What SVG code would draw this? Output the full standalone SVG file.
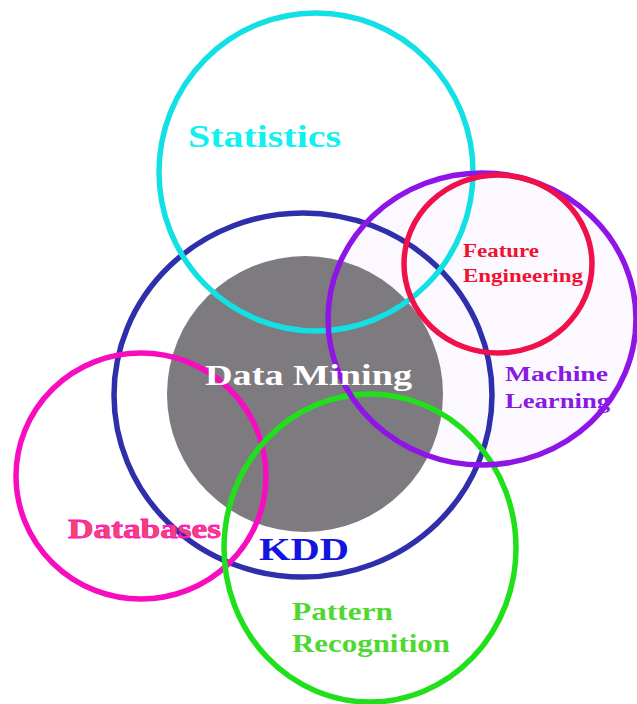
<svg xmlns="http://www.w3.org/2000/svg" width="637" height="704" viewBox="0 0 637 704">
  <style>
    .ring { fill: none; stroke-width: 5.5; }
    .lbl { font-family: "Liberation Serif", "DejaVu Serif", serif; font-weight: bold; }
  </style>
  <rect width="637" height="704" fill="#ffffff"/>

  <!-- filled areas -->
  <g id="fills">
    <ellipse cx="482" cy="319" rx="155" ry="147" fill="#fbf9ff"/>
    <circle id="data-mining-disc" cx="305" cy="394" r="138" fill="#7d7b7f"/>
  </g>

  <!-- outlines of the fields -->
  <g id="kdd"><ellipse class="ring" cx="303" cy="395" rx="189" ry="182" stroke="#2f2fab"/></g>
  <g id="statistics"><ellipse class="ring" cx="316" cy="172" rx="157" ry="159" stroke="#12e0e4"/></g>
  <g id="databases"><ellipse class="ring" cx="141" cy="476" rx="125" ry="123" stroke="#f80cc0"/></g>
  <g id="pattern-recognition"><ellipse class="ring" cx="370" cy="548" rx="146" ry="154" stroke="#20e01c"/></g>
  <g id="machine-learning"><ellipse class="ring" cx="482" cy="319" rx="154" ry="146" stroke="#8f14e6"/></g>
  <g id="feature-engineering"><ellipse class="ring" cx="498" cy="264" rx="94" ry="89" stroke="#f0104a"/></g>

  <!-- labels -->
  <g id="labels">
    <text class="lbl" x="188" y="147" font-size="31" fill="#12f0f0" textLength="153" lengthAdjust="spacingAndGlyphs">Statistics</text>
    <text class="lbl" x="205" y="385" font-size="30" fill="#ffffff" textLength="207" lengthAdjust="spacingAndGlyphs">Data Mining</text>
    <text class="lbl" x="259" y="560" font-size="32" fill="#1414e0" textLength="90" lengthAdjust="spacingAndGlyphs">KDD</text>
    <text class="lbl" x="68" y="538" font-size="28" fill="#f2485e" stroke="#ff10c8" stroke-width="0.8" textLength="153" lengthAdjust="spacingAndGlyphs">Databases</text>
    <text class="lbl" x="463" y="257" font-size="18" fill="#f01030" textLength="76" lengthAdjust="spacingAndGlyphs">Feature</text>
    <text class="lbl" x="463" y="282" font-size="18" fill="#f01030" textLength="120" lengthAdjust="spacingAndGlyphs">Engineering</text>
    <text class="lbl" x="505" y="381" font-size="20" fill="#8a1ae0" textLength="103" lengthAdjust="spacingAndGlyphs">Machine</text>
    <text class="lbl" x="505" y="408" font-size="20" fill="#8a1ae0" textLength="105" lengthAdjust="spacingAndGlyphs">Learning</text>
    <text class="lbl" x="292" y="620" font-size="25" fill="#50d830" textLength="101" lengthAdjust="spacingAndGlyphs">Pattern</text>
    <text class="lbl" x="292" y="652" font-size="25" fill="#50d830" textLength="158" lengthAdjust="spacingAndGlyphs">Recognition</text>
  </g>
</svg>
